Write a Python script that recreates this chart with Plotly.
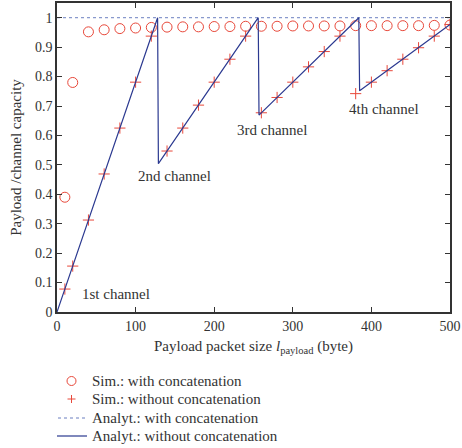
import plotly.graph_objects as go

# Simulation sample sizes (bytes)
sim_x = [10, 20, 40, 60, 80, 100, 120, 140, 160, 180, 200, 220, 240, 260,
         280, 300, 320, 340, 360, 380, 400, 420, 440, 460, 480, 500]
# Sim.: with concatenation
sim_with = [0.39, 0.78, 0.952, 0.959, 0.963, 0.965, 0.967, 0.968, 0.969, 0.969,
            0.970, 0.970, 0.971, 0.971, 0.971, 0.972, 0.972, 0.972, 0.972, 0.973,
            0.973, 0.973, 0.973, 0.973, 0.974, 0.975]
# Sim.: without concatenation
sim_without = [0.078, 0.156, 0.3125, 0.469, 0.625, 0.781, 0.9375, 0.547, 0.625, 0.703,
               0.781, 0.859, 0.9375, 0.677, 0.729, 0.781, 0.833, 0.885, 0.9375, 0.742,
               0.781, 0.820, 0.859, 0.898, 0.9375, 0.977]
# Analyt.: with concatenation
ana_with_x = [0, 500]
ana_with_y = [1.0, 1.0]
# Analyt.: without concatenation (sawtooth)
ana_without_x = [0, 128, 129, 256, 257, 384, 385, 500]
ana_without_y = [0.0, 1.0, 0.504, 1.0, 0.669, 1.0, 0.752, 0.977]

series_names = ["Sim.: with concatenation", "Sim.: without concatenation",
                "Analyt.: with concatenation", "Analyt.: without concatenation"]

labels = ["1st channel", "2nd channel", "3rd channel", "4th channel"]
label_x = [75, 149, 274, 416]
label_y = [0.061, 0.463, 0.619, 0.69]

x_ticks = [0, 100, 200, 300, 400, 500]
y_ticks = [0, 0.1, 0.2, 0.3, 0.4, 0.5, 0.6, 0.7, 0.8, 0.9, 1]

FONT = "Liberation Serif"
RED = "#e8483a"
BLUE = "#2b3990"
DOT = "#6b7fc0"
TXT = "#333333"

W, H = 462, 448
L, R, T, B = 57, 12, 3, 136
PW, PH = W - L - R, H - T - B


def px_x(px):
    return (px - L) / PW


def px_y(py):
    return (H - B - py) / PH


fig = go.Figure()
fig.add_trace(go.Scatter(x=sim_x, y=sim_with, mode="markers",
                         name=series_names[0],
                         marker=dict(symbol="circle-open", size=10, color=RED,
                                     line=dict(width=1, color=RED))))
fig.add_trace(go.Scatter(x=sim_x, y=sim_without, mode="markers",
                         name=series_names[1],
                         marker=dict(symbol="cross-thin-open", size=8, color=RED,
                                     line=dict(width=1, color=RED))))
fig.add_trace(go.Scatter(x=ana_with_x, y=ana_with_y, mode="lines",
                         name=series_names[2],
                         line=dict(color=DOT, width=1, dash="dot")))
fig.add_trace(go.Scatter(x=ana_without_x, y=ana_without_y, mode="lines",
                         name=series_names[3],
                         line=dict(color=BLUE, width=1.2)))

for t, lx, ly in zip(labels, label_x, label_y):
    fig.add_annotation(x=lx, y=ly, text=t, showarrow=False,
                       font=dict(family=FONT, size=15, color=TXT))

# Manual legend (tight row spacing as in the reference)
row_y = [381, 399, 418, 436]
sym_x = 71.5
text_x = 90
for name, ry in zip(series_names, row_y):
    fig.add_annotation(xref="paper", yref="paper", x=px_x(text_x), y=px_y(ry),
                       xanchor="left", yanchor="middle", text=name, showarrow=False,
                       font=dict(family=FONT, size=15, color=TXT))
# circle symbol
fig.add_shape(type="circle", xref="paper", yref="paper", xsizemode="pixel", ysizemode="pixel",
              xanchor=px_x(sym_x), yanchor=px_y(row_y[0]), x0=-4.5, x1=4.5, y0=-4.5, y1=4.5,
              line=dict(color=RED, width=1))
# plus symbol
fig.add_shape(type="line", xref="paper", yref="paper", xsizemode="pixel", ysizemode="pixel",
              xanchor=px_x(sym_x), yanchor=px_y(row_y[1]), x0=-4, x1=4, y0=0, y1=0,
              line=dict(color=RED, width=1))
fig.add_shape(type="line", xref="paper", yref="paper", xsizemode="pixel", ysizemode="pixel",
              xanchor=px_x(sym_x), yanchor=px_y(row_y[1]), x0=0, x1=0, y0=-4, y1=4,
              line=dict(color=RED, width=1))
# dotted line symbol
fig.add_shape(type="line", xref="paper", yref="paper",
              x0=px_x(58), x1=px_x(86), y0=px_y(row_y[2]), y1=px_y(row_y[2]),
              line=dict(color=DOT, width=1, dash="dot"))
# solid line symbol
fig.add_shape(type="line", xref="paper", yref="paper",
              x0=px_x(57), x1=px_x(87), y0=px_y(row_y[3]), y1=px_y(row_y[3]),
              line=dict(color=BLUE, width=1.2))

axis_common = dict(showline=True, linecolor=TXT, linewidth=1.5, mirror="ticks",
                   ticks="inside", ticklen=5, tickcolor=TXT, showgrid=False,
                   zeroline=False,
                   tickfont=dict(family=FONT, size=14, color=TXT))

fig.update_xaxes(range=[0, 500], tickvals=x_ticks,
                 title=dict(text="Payload packet size <i>l</i><sub>payload</sub> (byte)",
                            font=dict(family=FONT, size=15, color=TXT), standoff=8),
                 **axis_common)
fig.update_yaxes(range=[0, 1.05], tickvals=y_ticks, ticktext=[str(v) for v in y_ticks],
                 title=dict(text="Payload /channel capacity",
                            font=dict(family=FONT, size=15, color=TXT), standoff=10),
                 **axis_common)

fig.update_layout(
    width=W, height=H,
    margin=dict(l=L, r=R, t=T, b=B, autoexpand=False),
    plot_bgcolor="white", paper_bgcolor="white",
    showlegend=False,
)

fig.write_html("out.html")
